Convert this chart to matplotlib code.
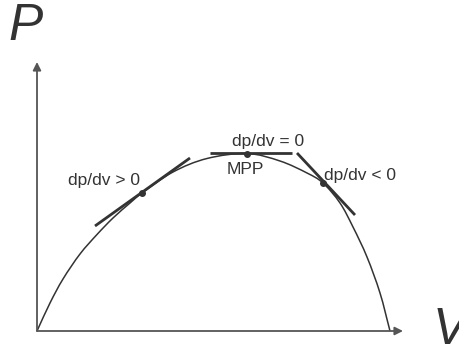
import numpy as np
import matplotlib
matplotlib.use('Agg')
import matplotlib.pyplot as plt
from matplotlib.path import Path
from matplotlib.patches import PathPatch

plt.rcParams['font.family'] = ['Liberation Sans', 'DejaVu Sans']

# P-V curve (arbitrary units, origin at axes crossing)
v_curve = [0, 13, 26, 43, 60, 76, 93, 105, 136, 170, 210, 243, 270, 286, 303, 316, 330, 343, 353]
p_curve = [0, 28, 52, 77, 96.5, 113, 128, 138, 159, 172.5, 177.5, 170, 158, 148, 128, 104, 74, 38, 0]

# tangent segments: (v0, p0, v1, p1)
tangents = [
    (58, 105, 153, 173),
    (173, 178, 255, 178),
    (260, 178, 318, 116),
]
tangent_points_v = [105, 210, 286]
tangent_points_p = [138, 177.5, 148]

labels = ['dp/dv > 0', 'dp/dv = 0', 'MPP', 'dp/dv < 0']
label_v = [66.5, 231, 208.5, 322.5]
label_p = [151, 189.5, 161.5, 155.5]

v_max = 366
p_max = 269

ink = '#333333'


def smooth_path(xs, ys):
    # catmull-rom through the read points, drawn as cubic bezier pieces
    pts = np.column_stack([xs, ys]).astype(float)
    ext = np.vstack([2 * pts[0] - pts[1], pts, 2 * pts[-1] - pts[-2]])
    verts = [pts[0]]
    codes = [Path.MOVETO]
    for i in range(1, len(ext) - 2):
        p0, p1, p2, p3 = ext[i - 1], ext[i], ext[i + 1], ext[i + 2]
        verts += [p1 + (p2 - p0) / 6, p2 - (p3 - p1) / 6, p2]
        codes += [Path.CURVE4] * 3
    return Path(verts, codes)


fig = plt.figure(figsize=(4.59, 3.48), dpi=100)
ax = fig.add_axes([0, 0, 1, 1])
ax.set_xlim(-37, 422)
ax.set_ylim(-17, 331)
ax.axis('off')

# axes with arrows
ax.annotate('', xy=(v_max, 0), xytext=(0, 0),
            arrowprops=dict(arrowstyle='-|>', color='#555555', lw=1.3,
                            mutation_scale=12, shrinkA=0, shrinkB=0))
ax.annotate('', xy=(0, p_max), xytext=(0, 0),
            arrowprops=dict(arrowstyle='-|>', color='#555555', lw=1.3,
                            mutation_scale=12, shrinkA=0, shrinkB=0))

ax.add_patch(PathPatch(smooth_path(v_curve, p_curve), facecolor='none',
                       edgecolor=ink, lw=1.1))

for v0, p0, v1, p1 in tangents:
    ax.plot([v0, v1], [p0, p1], color=ink, lw=2.0, solid_capstyle='butt')

ax.plot(tangent_points_v, tangent_points_p, 'o', color=ink, markersize=4)

for txt, lv, lp in zip(labels, label_v, label_p):
    ax.text(lv, lp, txt, fontsize=12.5, color=ink, ha='center', va='center')

ax.text(-11, 304, 'P', fontsize=37, style='italic', color=ink, ha='center', va='center')
ax.text(413, 0, 'V', fontsize=37, style='italic', color=ink, ha='center', va='center')

plt.savefig('out.png', dpi=100)
